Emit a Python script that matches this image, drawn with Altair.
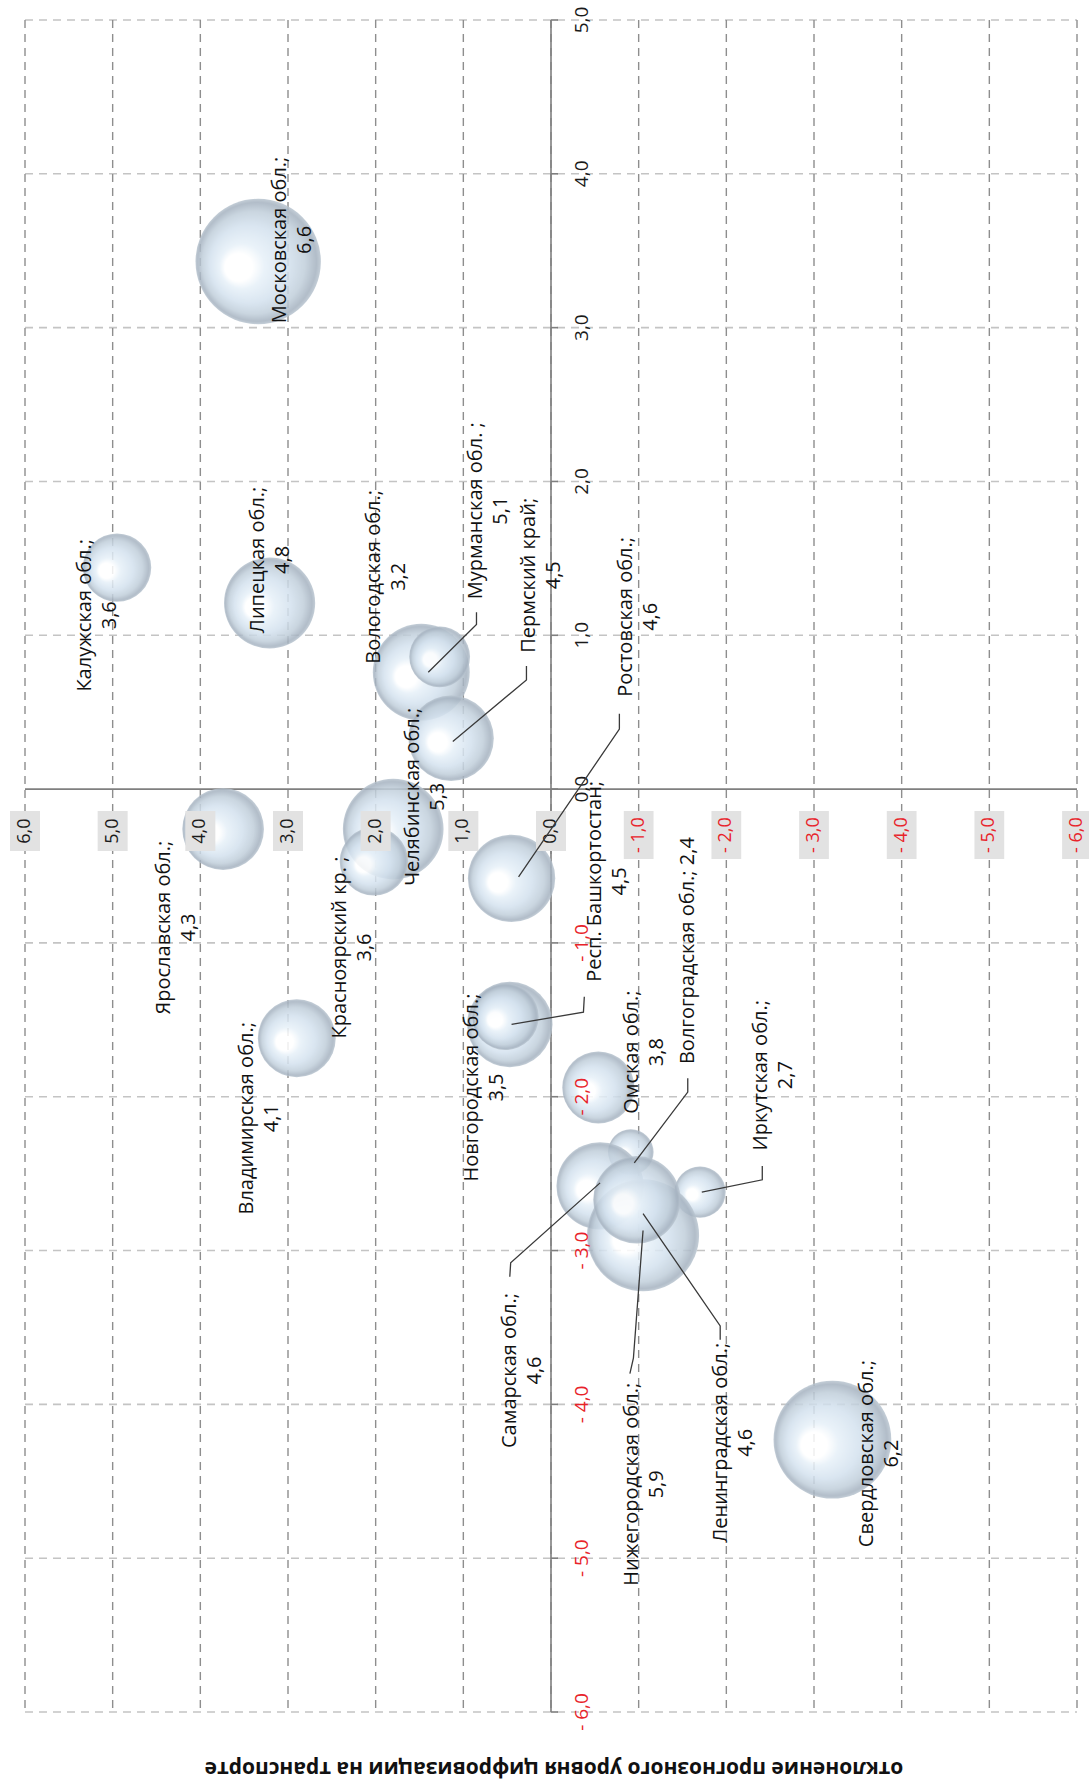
import altair as alt
import pandas as pd

# ---------------- data ----------------
regions = ["Московская", "Калужская", "Липецкая", "Мурманская", "Вологодская",
           "Пермский", "Ростовская", "Челябинская", "Красноярский", "Ярославская",
           "Владимирская", "Башкортостан", "Новгородская", "Омская", "Волгоградская",
           "Иркутская", "Самарская", "Нижегородская", "Ленинградская", "Свердловская"]
# horizontal (screen) coordinate of bubbles
a_vals = [3.34, 4.95, 3.21, 1.48, 1.27, 1.14, 0.45, 1.80, 2.02, 3.74,
          2.90, 0.47, 0.52, -0.54, -0.91, -1.70, -0.56, -1.05, -0.98, -3.21]
# vertical (screen) coordinate of bubbles
b_vals = [3.43, 1.44, 1.21, 0.76, 0.86, 0.33, -0.58, -0.26, -0.47, -0.26,
          -1.62, -1.53, -1.48, -1.94, -2.36, -2.62, -2.58, -2.90, -2.67, -4.23]
# bubble values (shown in the labels)
bubble_vals = [6.6, 3.6, 4.8, 5.1, 3.2, 4.5, 4.6, 5.3, 3.6, 4.3,
               4.1, 4.5, 3.5, 3.8, 2.4, 2.7, 4.6, 5.9, 4.6, 6.2]
label_names = ["Московская обл.;", "Калужская обл.;", "Липецкая обл.;", "Мурманская обл. ;",
               "Вологодская обл.;", "Пермский край;", "Ростовская обл.;", "Челябинская обл.;",
               "Красноярский кр. ;", "Ярославская обл.;", "Владимирская обл.;",
               "Респ. Башкортостан;", "Новгородская обл.;", "Омская обл.;",
               "Волгоградская обл.;", "Иркутская обл.;", "Самарская обл.;",
               "Нижегородская обл.;", "Ленинградская обл.;", "Свердловская обл.;"]
label_sep = ["\n"] * 14 + [" "] + ["\n"] * 5
label_a = [3.09, 5.31, 3.34, 0.86, 2.02, 0.25, -0.85, 1.57, 2.41, 4.41,
           3.47, -0.50, 0.90, -0.92, -1.56, -2.40, 0.47, -0.92, -1.94, -3.60]
label_b = [3.57, 1.13, 1.49, 1.81, 1.38, 1.39, 1.12, -0.05, -1.03, -0.90,
           -2.14, -0.60, -1.94, -1.71, -1.05, -1.86, -3.78, -4.52, -4.25, -4.32]

# leader lines: region -> points (a, b)
leaders = {
    "Мурманская": [(0.85, 1.15), (0.85, 1.07), (1.40, 0.76)],
    "Пермский": [(0.28, 0.80), (0.28, 0.71), (1.12, 0.31)],
    "Ростовская": [(-0.78, 0.49), (-0.78, 0.39), (0.37, -0.57)],
    "Башкортостан": [(-0.38, -1.35), (-0.37, -1.45), (0.45, -1.53)],
    "Волгоградская": [(-1.56, -1.88), (-1.56, -1.97), (-0.95, -2.43)],
    "Иркутская": [(-2.41, -2.45), (-2.41, -2.54), (-1.72, -2.62)],
    "Самарская": [(0.47, -3.17), (0.46, -3.08), (-0.56, -2.56)],
    "Нижегородская": [(-0.90, -3.80), (-0.94, -3.70), (-1.05, -2.87)],
    "Ленинградская": [(-1.93, -3.58), (-1.93, -3.49), (-1.05, -2.76)],
}

tick_a = [6, 5, 4, 3, 2, 1, 0, -1, -2, -3, -4, -5, -6]
tick_b = [5, 4, 3, 2, 1, 0, -1, -2, -3, -4, -5, -6]
axis_title = "отклонение прогнозного уровня цифровизации на транспорте"

# ---------------- helpers ----------------
def fmt_val(v):
    return f"{v:.1f}".replace(".", ",")

def fmt_tick(v):
    s = f"{abs(v):.1f}".replace(".", ",")
    return ("- " + s) if v < 0 else s

FONT = "Open Sans"
W, H = 1052, 1692

xs = alt.Scale(domain=[-6, 6], reverse=True, nice=False, zero=False)
ys = alt.Scale(domain=[-6, 5], nice=False, zero=False)

bub = pd.DataFrame({"region": regions, "a": a_vals, "b": b_vals, "v": bubble_vals})
lab = pd.DataFrame({
    "a": label_a, "b": label_b,
    "text": [n + s + fmt_val(v) for n, s, v in zip(label_names, label_sep, bubble_vals)],
})
lead_rows = []
for reg, pts in leaders.items():
    for i, (pa, pb) in enumerate(pts):
        lead_rows.append({"region": reg, "i": i, "a": pa, "b": pb})
lead = pd.DataFrame(lead_rows)

ta = pd.DataFrame({"a": tick_a, "t": [fmt_tick(v) for v in tick_a],
                   "sign": ["neg" if v < 0 else "pos" for v in tick_a]})
tb = pd.DataFrame({"b": tick_b, "t": [fmt_tick(v) for v in tick_b],
                   "sign": ["neg" if v < 0 else "pos" for v in tick_b]})

X = lambda f: alt.X(f, scale=xs, axis=None)
Y = lambda f: alt.Y(f, scale=ys, axis=None)
sign_color = alt.Color("sign:N", scale=alt.Scale(domain=["pos", "neg"], range=["#1a1a1a", "#e8232a"]), legend=None)

# gridlines
vgrid = alt.Chart(ta).mark_rule(color="#8e8e8e", strokeDash=[8, 6], strokeWidth=1.4).encode(
    x=X("a:Q"), y=alt.YDatum(5, scale=ys, axis=None), y2=alt.Y2Datum(-6))
hgrid = alt.Chart(tb[tb.b != 0]).mark_rule(color="#c4c4c4", strokeDash=[8, 6], strokeWidth=1.6).encode(
    y=Y("b:Q"), x=alt.XDatum(6, scale=xs, axis=None), x2=alt.X2Datum(-6))

# zero axes
haxis = alt.Chart(pd.DataFrame({"b": [0]})).mark_rule(color="#7f7f7f", strokeWidth=1.6).encode(
    y=Y("b:Q"), x=alt.XDatum(6, scale=xs, axis=None), x2=alt.X2Datum(-6))
vaxis = alt.Chart(pd.DataFrame({"a": [0]})).mark_rule(color="#7f7f7f", strokeWidth=1.6).encode(
    x=X("a:Q"), y=alt.YDatum(5, scale=ys, axis=None), y2=alt.Y2Datum(-6))
vticks = alt.Chart(tb).mark_point(shape="M0,0L1,0", size=196, filled=False, stroke="#7f7f7f",
                                  strokeWidth=1.6, opacity=1).encode(
    x=alt.XDatum(0, scale=xs, axis=None), y=Y("b:Q"))

# axis labels on horizontal axis (with grey boxes)
box_pos = alt.Chart(ta[ta.a >= 0]).mark_point(
    shape="M-0.75,-1L0.75,-1L0.75,1L-0.75,1Z", size=1600, filled=True, fill="#e2e2e2",
    strokeWidth=0, opacity=1, yOffset=42).encode(x=X("a:Q"), y=alt.YDatum(0, scale=ys, axis=None))
box_neg = alt.Chart(ta[ta.a < 0]).mark_point(
    shape="M-0.62,-1L0.62,-1L0.62,1L-0.62,1Z", size=2304, filled=True, fill="#e2e2e2",
    strokeWidth=0, opacity=1, yOffset=46).encode(x=X("a:Q"), y=alt.YDatum(0, scale=ys, axis=None))
ta_pos_text = alt.Chart(ta[ta.a >= 0]).mark_text(
    angle=270, align="center", baseline="middle", font=FONT, fontSize=18, yOffset=42).encode(
    x=X("a:Q"), y=alt.YDatum(0, scale=ys, axis=None), text="t:N", color=sign_color)
ta_neg_text = alt.Chart(ta[ta.a < 0]).mark_text(
    angle=270, align="center", baseline="middle", font=FONT, fontSize=18, yOffset=46).encode(
    x=X("a:Q"), y=alt.YDatum(0, scale=ys, axis=None), text="t:N", color=sign_color)

# axis labels on vertical axis
tb_text = alt.Chart(tb).mark_text(
    angle=270, align="center", baseline="middle", font=FONT, fontSize=19, xOffset=31).encode(
    x=alt.XDatum(0, scale=xs, axis=None), y=Y("b:Q"), text="t:N", color=sign_color)

# bubbles
grad = alt.RadialGradient(
    gradient="radial", x1=0.3, y1=0.56, r1=0.0, x2=0.5, y2=0.5, r2=0.5,
    stops=[alt.GradientStop(color="#ffffff", offset=0.0),
           alt.GradientStop(color="#ffffff", offset=0.22),
           alt.GradientStop(color="#e6f0f8", offset=0.36),
           alt.GradientStop(color="#d3e1ee", offset=0.62),
           alt.GradientStop(color="#c0ceda", offset=0.82),
           alt.GradientStop(color="#a4b1bf", offset=0.95),
           alt.GradientStop(color="#b9c5d0", offset=1.0)])
bubbles = alt.Chart(bub).mark_point(shape="circle", filled=True, fill=grad, strokeWidth=0,
                                    opacity=0.85).encode(
    x=X("a:Q"), y=Y("b:Q"),
    size=alt.Size("v:Q", scale=alt.Scale(type="pow", exponent=2, domain=[0, 7], range=[0, 17671]),
                  legend=None))

# leader lines
leader_lines = alt.Chart(lead).mark_line(color="#3a3a3a", strokeWidth=1.3).encode(
    x=X("a:Q"), y=Y("b:Q"), detail="region:N", order="i:Q")

# bubble labels
labels = alt.Chart(lab).mark_text(
    angle=270, align="center", baseline="middle", font=FONT, fontSize=20, lineBreak="\n",
    lineHeight=25, color="#111111").encode(x=X("a:Q"), y=Y("b:Q"), text="text:N")

# axis title (upside down)
title = alt.Chart(pd.DataFrame({"t": [axis_title]})).mark_text(
    angle=180, align="center", baseline="middle", font=FONT, fontSize=21, fontWeight="bold",
    color="#111111").encode(x=alt.value(W / 2 + 3), y=alt.value(H + 56), text="t:N")

chart = alt.layer(
    hgrid, vgrid, haxis, vaxis, vticks, bubbles,
    box_pos, box_neg, ta_pos_text, ta_neg_text, tb_text,
    leader_lines, labels, title
).properties(
    width=W, height=H,
    autosize=alt.AutoSizeParams(type="none"),
    padding={"left": 25, "top": 20, "right": 12, "bottom": 71},
    background="white",
).configure_view(strokeWidth=0)

chart.save("out.html", embed_options={"renderer": "svg", "actions": False})
